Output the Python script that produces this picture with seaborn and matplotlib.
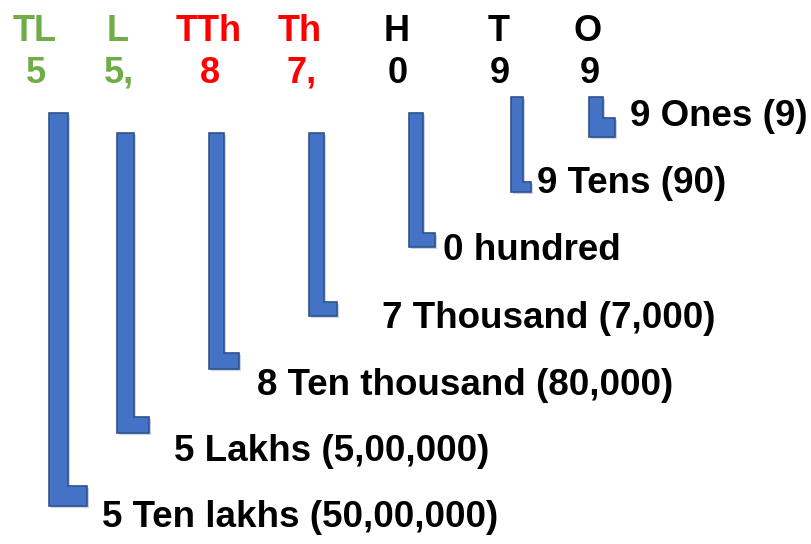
import matplotlib
matplotlib.use("Agg")
import matplotlib.pyplot as plt
import seaborn as sns

# place value chart for 58,70,99 -> 5,87,099 ...
places = ['TL', 'L', 'TTh', 'Th', 'H', 'T', 'O']
digits = ['5', '5,', '8', '7,', '0', '9', '9']
labels = ['5 Ten lakhs (50,00,000)', '5 Lakhs (5,00,000)', '8 Ten thousand (80,000)',
          '7 Thousand (7,000)', '0 hundred', '9 Tens (90)', '9 Ones (9)']
groups = ['lakh', 'lakh', 'thousand', 'thousand', 'unit', 'unit', 'unit']

# bracket geometry (pixels, y grows downward)
stem_left = [49, 117, 209, 309, 409, 511, 589]
stem_top = [113, 133, 133, 133, 113, 97, 97]
stem_bottom = [506, 433, 369, 316, 247, 192, 137]
stem_w = [19, 17, 15, 15, 14, 12, 14]
foot_right = [87, 149, 239, 337, 435, 531, 615]
foot_h = [20, 16, 16, 14, 14, 10, 19]

head_x = [35, 118, 209, 300, 397, 499, 588]
digit_left = [26, 104, 200, 287, 388, 490, 580]
label_x = [102, 174, 257, 382, 443, 537, 630]
label_y = [527, 461, 395, 328, 260, 193, 126]

group_color = {'lakh': '#70AD47', 'thousand': '#FF0000', 'unit': '#000000'}

sns.set_theme(style='white')
plt.rcParams['font.family'] = ['Liberation Sans', 'DejaVu Sans']

fig = plt.figure(figsize=(8.12, 5.44), dpi=100)
ax = fig.add_axes([0, 0, 1, 1])
ax.set_xlim(0, 812)
ax.set_ylim(544, 0)
ax.axis('off')

for i in range(len(places)):
    c = group_color[groups[i]]
    ax.text(head_x[i], 41, places[i], color=c, fontsize=26, fontweight='bold',
            ha='center', va='baseline')
    ax.text(digit_left[i], 83, digits[i], color=c, fontsize=26, fontweight='bold',
            ha='left', va='baseline')

    l, t, b, w = stem_left[i], stem_top[i], stem_bottom[i], stem_w[i]
    r, fh = foot_right[i], foot_h[i]
    xs = [l, l + w, l + w, r, r, l]
    ys = [t, t, b - fh, b - fh, b, b]
    # faint shadow, then the bracket
    ax.fill([x + 2 for x in xs], [y + 2 for y in ys], color='#c9d3e6', lw=0, zorder=1)
    ax.fill(xs, ys, facecolor='#4472C4', edgecolor='#2F528F', lw=1.2, zorder=2)

    ax.text(label_x[i], label_y[i], labels[i], color='black', fontsize=26.5,
            fontweight='bold', ha='left', va='baseline')

fig.savefig('out.png', dpi=100)
